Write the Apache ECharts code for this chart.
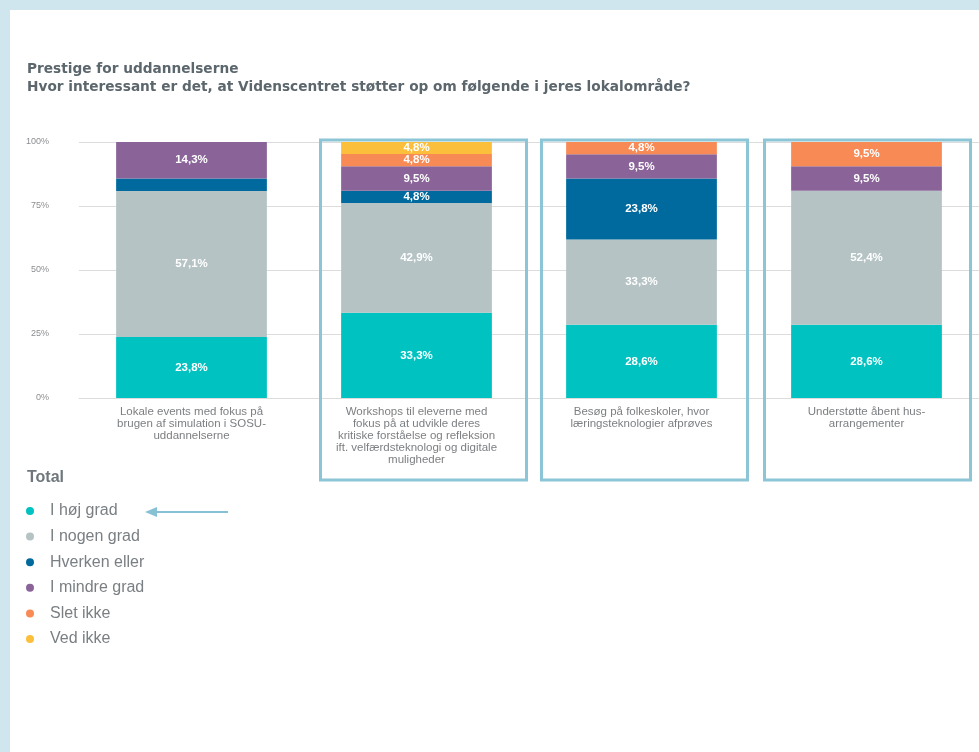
<!DOCTYPE html>
<html>
<head>
<meta charset="utf-8">
<script src="https://cdn.jsdelivr.net/npm/echarts@6/dist/echarts.min.js"></script>
<style>
  html, body { margin: 0; padding: 0; background: #cfe6ee; }
  #chart { position: absolute; left: 10px; top: 10px; width: 969px; height: 742px; background: #fff; }
</style>
</head>
<body>
<div id="chart"></div>
<script>
// kategorier på x-aksen
const kategorier = [
  "Lokale events med fokus på\nbrugen af simulation i SOSU-\nuddannelserne",
  "Workshops til eleverne med\nfokus på at udvikle deres\nkritiske forståelse og refleksion\nift. velfærdsteknologi og digitale\nmuligheder",
  "Besøg på folkeskoler, hvor\nlæringsteknologier afprøves",
  "Understøtte åbent hus-\narrangementer"
];
const serieNavne = ["I høj grad", "I nogen grad", "Hverken eller", "I mindre grad", "Slet ikke", "Ved ikke"];
// procent-værdier pr. svar
const hojGrad = [23.8, 33.3, 28.6, 28.6];
const nogenGrad = [57.1, 42.9, 33.3, 52.4];
const hverkenEller = [4.8, 4.8, 23.8, null];
const mindreGrad = [14.3, 9.5, 9.5, 9.5];
const sletIkke = [null, 4.8, 4.8, 9.5];
const vedIkke = [null, 4.8, null, null];
const farver = ["#00c2c0", "#b5c3c5", "#006a9e", "#8a6499", "#f88a56", "#fbbf3c"];
// kategorier med ramme om
const markerede = [1, 2, 3];

const alleData = [hojGrad, nogenGrad, hverkenEller, mindreGrad, sletIkke, vedIkke];
const fontFam = "Liberation Sans, Arial, sans-serif";

const myChart = echarts.init(document.getElementById("chart"));

const series = alleData.map(function (arr, s) {
  return {
    name: serieNavne[s],
    type: "bar",
    stack: "total",
    barWidth: "67%",
    itemStyle: { color: farver[s] },
    label: {
      show: true,
      position: "inside",
      color: "#fff",
      fontSize: 11.5,
      fontWeight: "bold",
      fontFamily: fontFam,
      formatter: function (p) {
        return p.value.toFixed(1).replace(".", ",") + "%";
      }
    },
    data: arr.map(function (v, i) {
      // den smalle blå bjælke i første kategori har ingen tekst
      if (s === 2 && i === 0) return { value: v, label: { show: false } };
      return v;
    })
  };
});

const option = {
  animation: false,
  title: [
    {
      text: "Prestige for uddannelserne\nHvor interessant er det, at Videnscentret støtter op om følgende i jeres lokalområde?",
      left: 12,
      top: 45,
      textStyle: { fontSize: 13.7, fontWeight: "bold", color: "#5b666d", lineHeight: 18, fontFamily: "DejaVu Sans, sans-serif" }
    },
    {
      text: "Total",
      left: 12,
      top: 455,
      textStyle: { fontSize: 16, fontWeight: "bold", color: "#6f777c", fontFamily: fontFam }
    }
  ],
  legend: {
    orient: "vertical",
    left: 11,
    top: 488,
    icon: "circle",
    itemWidth: 8,
    itemHeight: 8,
    itemGap: 9.6,
    textStyle: { fontSize: 16, lineHeight: 14, color: "#7a7f83", fontFamily: fontFam, padding: [0, 0, 0, 11] },
    data: serieNavne
  },
  grid: { left: 69, top: 132, width: 904, bottom: 354, containLabel: false },
  xAxis: {
    type: "category",
    data: kategorier,
    axisTick: { show: false },
    axisLine: { lineStyle: { color: "#dcdcdc" } },
    axisLabel: {
      interval: 0,
      margin: 8,
      fontSize: 11.5,
      lineHeight: 12,
      color: "#7c7f82",
      fontFamily: fontFam
    }
  },
  yAxis: {
    type: "value",
    min: 0,
    max: 100,
    interval: 25,
    axisLine: { show: false },
    axisTick: { show: false },
    axisLabel: { formatter: "{value}%", fontSize: 9, color: "#8a8d90", margin: 30, fontFamily: fontFam },
    splitLine: { lineStyle: { color: "#dcdcdc" } }
  },
  series: series
};

myChart.setOption(option);

// rammer og pil
const rammeForskyd = [7, 3, 1];
const grafik = markerede.map(function (i, k) {
  const cx = myChart.convertToPixel({ xAxisIndex: 0 }, kategorier[i]);
  return {
    type: "rect",
    shape: { x: cx - 103 + rammeForskyd[k], y: 130, width: 206, height: 340 },
    style: { fill: "none", stroke: "#8cc5d6", lineWidth: 3 },
    z: 100
  };
});
grafik.push({
  type: "line",
  shape: { x1: 218, y1: 502, x2: 140, y2: 502 },
  style: { stroke: "#86c2d3", lineWidth: 2 }
});
grafik.push({
  type: "polygon",
  shape: { points: [[135, 502], [147, 497], [147, 507]] },
  style: { fill: "#86c2d3" }
});
myChart.setOption({ graphic: grafik });
</script>
</body>
</html>
